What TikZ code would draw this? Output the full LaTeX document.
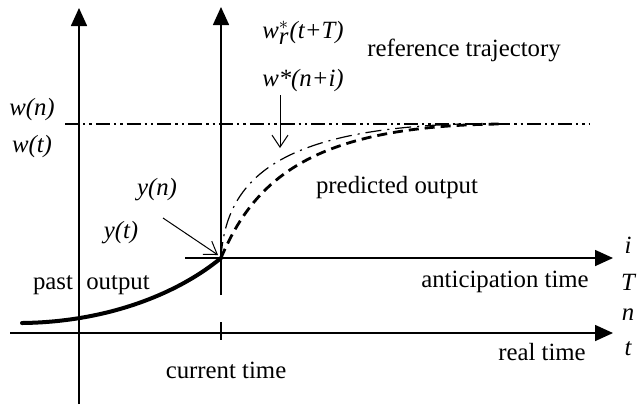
\documentclass[tikz,border=0pt]{standalone}
\usepackage{fontspec}
\setmainfont{Liberation Serif}
\usetikzlibrary{arrows.meta}

\begin{document}
\begin{tikzpicture}[x=0.5pt,y=-0.5pt,
  axis/.style={line width=0.8pt,-{Triangle[length=9pt,width=8pt]}},
  pointer/.style={line width=0.5pt,-{Straight Barb[length=6pt,width=8pt]}},
  lbl/.style={font=\fontsize{12.4}{14}\selectfont,inner sep=0pt},
  var/.style={font=\fontsize{12.4}{14}\selectfont\itshape,inner sep=0pt}]
  \useasboundingbox (0,0) rectangle (637,404);
  % axes
  \coordinate (lbot) at (79,404);
  \coordinate (ltop) at (79,8);
  \coordinate (mtop) at (221,7);
  \coordinate (mbot) at (221,295);
  \coordinate (now) at (221,258);
  \coordinate (astart) at (185,258);
  \coordinate (aend) at (613,258);
  \coordinate (rstart) at (10,333);
  \coordinate (rend) at (613,333);
  \draw[axis] (lbot) -- (ltop);
  \draw[axis] (mbot) -- (mtop);
  \draw[line width=0.8pt] (221,322) -- (221,340);
  \draw[axis] (astart) -- (aend);
  \draw[axis] (rstart) -- (rend);
  % reference level
  \coordinate (wleft) at (65,124);
  \coordinate (wright) at (590,124);
  \draw[line width=1pt,dash pattern=on 7pt off 2pt on 1.2pt off 2pt on 1.2pt off 2pt] (wleft) -- (wright);
  % curves
  \draw[line width=2pt,line cap=round] (22,323) .. controls (110,322) and (180,292) .. (now);
  \draw[line width=1.4pt,dash pattern=on 5pt off 3pt] (now) .. controls (256,175) and (318,126) .. (500,124);
  \draw[line width=0.6pt,dash pattern=on 8pt off 3pt on 1pt off 3pt] (now) .. controls (226,175) and (285,130) .. (460,124);
  % labels
  \node[var] (wn) at (32,110) {w(n)};
  \node[var] (wt) at (32,147) {w(t)};
  \node[var] (yn) at (157,190) {y(n)};
  \node[var] (yt) at (121,233) {y(t)};
  \node[var] (wstar) at (303,33) {w$^{*}_{\textit{r}}$(t+T)};
  \node[var] (wi) at (303,81) {w*(n+i)};
  \node[lbl] (reftraj) at (464,50) {reference trajectory};
  \node[lbl] (pred) at (397,188) {predicted output};
  \node[lbl] (past) at (53,285) {past};
  \node[lbl] (pout) at (118,285) {output};
  \node[lbl] (antic) at (505,282) {anticipation time};
  \node[lbl] (real) at (542,352) {real time};
  \node[lbl] (cur) at (226,370) {current time};
  \node[var] (ii) at (628,245) {i};
  \node[var] (TT) at (628,282) {T};
  \node[var] (nn) at (628,315) {n};
  \node[var] (tt) at (628,349) {t};
  % pointers
  \coordinate (wdown) at (280,148);
  \draw[pointer] (280,95) -- (wdown);
  \draw[pointer] (163,218) -- (218,255);
\end{tikzpicture}
\end{document}
